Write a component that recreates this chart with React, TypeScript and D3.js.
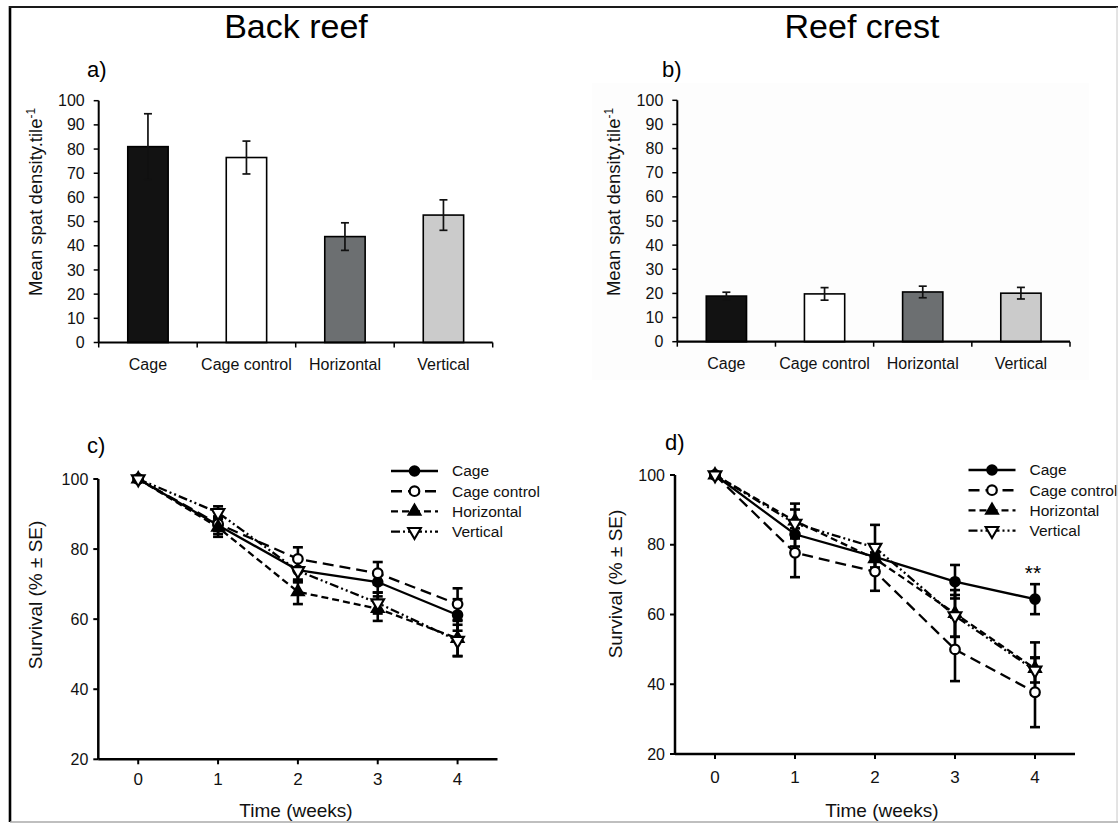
import React from "react";
import * as d3 from "d3";

// ---------- DATA ----------
const categories = ["Cage", "Cage control", "Horizontal", "Vertical"];
const backReefMeans = [81, 76.5, 43.8, 52.7];
const backReefSE = [13.6, 6.8, 5.7, 6.3];
const reefCrestMeans = [18.9, 19.8, 20.6, 20.1];
const reefCrestSE = [1.6, 2.6, 2.4, 2.4];
const barFills = ["#121212", "#ffffff", "#6c6f71", "#cbcbcb"];
const densityTicks = [0, 10, 20, 30, 40, 50, 60, 70, 80, 90, 100];

const weeks = [0, 1, 2, 3, 4];
const survivalTicks = [20, 40, 60, 80, 100];
const seriesNames = ["Cage", "Cage control", "Horizontal", "Vertical"];

// Back reef survival (c)
const backCage = [100, 86.8, 74.0, 70.6, 61.2];
const backCageSE = [0, 2.5, 3.5, 3.0, 4.5];
const backControl = [100, 87.2, 77.2, 73.1, 64.3];
const backControlSE = [0, 2.0, 3.3, 3.2, 4.5];
const backHorizontal = [100, 86.2, 67.8, 63.0, 54.5];
const backHorizontalSE = [0, 2.7, 3.5, 3.5, 5.0];
const backVertical = [100, 90.4, 73.8, 64.6, 53.9];
const backVerticalSE = [0, 1.8, 3.0, 3.0, 4.5];

// Reef crest survival (d)
const crestCage = [100, 83.0, 76.5, 69.4, 64.4];
const crestCageSE = [0, 3.5, 3.0, 4.8, 4.3];
const crestControl = [100, 77.7, 72.3, 50.0, 37.7];
const crestControlSE = [0, 7.0, 5.5, 9.1, 10.0];
const crestHorizontal = [100, 86.8, 76.0, 60.3, 44.5];
const crestHorizontalSE = [0, 5.0, 4.0, 6.7, 7.5];
const crestVertical = [100, 86.1, 79.2, 59.6, 44.0];
const crestVerticalSE = [0, 4.0, 6.5, 6.0, 3.5];

const dashes = ["none", "11,6", "7,4", "9,3,2,3,2,3"];
const markerKinds = ["circleFilled", "circleOpen", "triUp", "triDown"];

const FONT = "'Liberation Sans', Arial, Helvetica, sans-serif";

// ---------- BAR PANEL ----------
type BarProps = {
  x0: number; x1: number; yTop: number; yBottom: number;
  means: number[]; ses: number[]; labelX: number; labelY: number;
};

function BarPanel({ x0, x1, yTop, yBottom, means, ses, labelX, labelY }: BarProps) {
  const x = d3.scaleBand<string>().domain(categories).range([x0, x1]).padding(0);
  const y = d3.scaleLinear().domain([0, 100]).range([yBottom, yTop]);
  const bw = x.bandwidth() * 0.41;
  const boundaries = categories.map((c) => x(c) as number).concat([x1]);
  return (
    <g>
      {categories.map((c, i) => {
        const cx = (x(c) as number) + x.bandwidth() / 2;
        const top = y(means[i]);
        return (
          <g key={c}>
            <rect x={cx - bw / 2} y={top} width={bw} height={yBottom - top}
              fill={barFills[i]} stroke="#000" strokeWidth={1.6} />
            <line x1={cx} x2={cx} y1={y(means[i] + ses[i])} y2={y(means[i] - ses[i])}
              stroke="#111" strokeWidth={1.7} />
            <line x1={cx - 4} x2={cx + 4} y1={y(means[i] + ses[i])} y2={y(means[i] + ses[i])}
              stroke="#111" strokeWidth={1.7} />
            <line x1={cx - 4} x2={cx + 4} y1={y(means[i] - ses[i])} y2={y(means[i] - ses[i])}
              stroke="#111" strokeWidth={1.7} />
            <text x={cx} y={yBottom + 27} textAnchor="middle" fontSize={16} fontFamily={FONT} fill="#111">{c}</text>
          </g>
        );
      })}
      {/* axes */}
      <line x1={x0} x2={x0} y1={yTop} y2={yBottom} stroke="#000" strokeWidth={2} />
      <line x1={x0} x2={x1} y1={yBottom} y2={yBottom} stroke="#000" strokeWidth={2.2} />
      {densityTicks.map((t) => (
        <g key={t}>
          <line x1={x0 - 5} x2={x0} y1={y(t)} y2={y(t)} stroke="#000" strokeWidth={1.5} />
          <text x={x0 - 14} y={y(t)} dy="0.35em" textAnchor="end" fontSize={16} fontFamily={FONT} fill="#111">{t}</text>
        </g>
      ))}
      {boundaries.map((bx, i) => (
        <line key={i} x1={bx} x2={bx} y1={yBottom} y2={yBottom + 5} stroke="#000" strokeWidth={1.5} />
      ))}
      <text transform={`translate(${labelX},${labelY}) rotate(-90)`} textAnchor="middle"
        fontSize={18.5} fontFamily={FONT} fill="#111">
        Mean spat density.tile<tspan dy="-7" fontSize={12}>-1</tspan>
      </text>
    </g>
  );
}

// ---------- SURVIVAL PANEL ----------
type LineProps = {
  x0: number; x1: number; yTop: number; yBottom: number;
  series: number[][]; errors: number[][];
  labelX: number; labelY: number; timeX: number;
  legendX: number; legendY: number; tickBaseline: number;
};

function Marker({ kind, cx, cy }: { kind: string; cx: number; cy: number }) {
  if (kind === "circleFilled") return <circle cx={cx} cy={cy} r={4.9} fill="#000" stroke="#000" strokeWidth={1.8} />;
  if (kind === "circleOpen") return <circle cx={cx} cy={cy} r={4.8} fill="#fff" stroke="#000" strokeWidth={2.2} />;
  const sym = d3.symbol().type(d3.symbolTriangle).size(70)();
  if (kind === "triUp")
    return <path d={sym as string} transform={`translate(${cx},${cy})`} fill="#000" stroke="#000" strokeWidth={1.6} />;
  return <path d={sym as string} transform={`translate(${cx},${cy}) rotate(180)`} fill="#fff" stroke="#000" strokeWidth={2.1} />;
}

function SurvivalPanel(p: LineProps) {
  const x = d3.scaleLinear().domain([-0.5, 4.5]).range([p.x0, p.x1]);
  const y = d3.scaleLinear().domain([20, 100]).range([p.yBottom, p.yTop]);
  const line = d3.line<number>().x((_, i) => x(weeks[i])).y((d) => y(d));
  return (
    <g>
      {p.series.map((s, k) => (
        <path key={"l" + k} d={line(s) as string} fill="none" stroke="#000" strokeWidth={2.3}
          strokeDasharray={dashes[k]} />
      ))}
      {p.series.map((s, k) =>
        s.map((v, i) => {
          const e = p.errors[k][i];
          if (!e) return null;
          const cx = x(weeks[i]);
          return (
            <g key={`e${k}-${i}`}>
              <line x1={cx} x2={cx} y1={y(v + e)} y2={y(v - e)} stroke="#000" strokeWidth={2.6} />
              <line x1={cx - 5} x2={cx + 5} y1={y(v + e)} y2={y(v + e)} stroke="#000" strokeWidth={2.6} />
              <line x1={cx - 5} x2={cx + 5} y1={y(v - e)} y2={y(v - e)} stroke="#000" strokeWidth={2.6} />
            </g>
          );
        })
      )}
      {p.series.map((s, k) =>
        s.map((v, i) => <Marker key={`m${k}-${i}`} kind={markerKinds[k]} cx={x(weeks[i])} cy={y(v)} />)
      )}
      {/* axes */}
      <line x1={p.x0} x2={p.x0} y1={p.yTop} y2={p.yBottom} stroke="#000" strokeWidth={2.5} />
      <line x1={p.x0} x2={p.x1} y1={p.yBottom} y2={p.yBottom} stroke="#000" strokeWidth={2.5} />
      {survivalTicks.map((t) => (
        <g key={t}>
          <line x1={p.x0 - 5} x2={p.x0} y1={y(t)} y2={y(t)} stroke="#000" strokeWidth={2} />
          <text x={p.x0 - 10} y={y(t)} dy="0.35em" textAnchor="end" fontSize={16} fontFamily={FONT} fill="#111">{t}</text>
        </g>
      ))}
      {weeks.map((w) => (
        <g key={w}>
          <line x1={x(w)} x2={x(w)} y1={p.yBottom} y2={p.yBottom + 5} stroke="#000" strokeWidth={2} />
          <text x={x(w)} y={p.tickBaseline} textAnchor="middle" fontSize={17} fontFamily={FONT} fill="#111">{w}</text>
        </g>
      ))}
      <text transform={`translate(${p.labelX},${p.labelY}) rotate(-90)`} textAnchor="middle"
        fontSize={19} fontFamily={FONT} fill="#111">Survival (% ± SE)</text>
      <text x={p.timeX} y={817} textAnchor="middle" fontSize={19} fontFamily={FONT} fill="#111">Time (weeks)</text>
      {/* legend */}
      {seriesNames.map((n, k) => {
        const ly = p.legendY + k * 20.2;
        return (
          <g key={n}>
            <line x1={p.legendX} x2={p.legendX + 47} y1={ly} y2={ly} stroke="#000" strokeWidth={2.4}
              strokeDasharray={dashes[k]} />
            <Marker kind={markerKinds[k]} cx={p.legendX + 23.5} cy={ly} />
            <text x={p.legendX + 61} y={ly} dy="0.35em" fontSize={15.5} fontFamily={FONT} fill="#111">{n}</text>
          </g>
        );
      })}
    </g>
  );
}

export default function App() {
  return (
    <svg width={1118} height={823} style={{ position: "absolute", left: 0, top: 0, background: "#fff" }}>
      <rect x={0} y={0} width={1118} height={823} fill="#fff" />
      <rect x={592} y={83} width={497} height={297} fill="#fdfdfd" />

      {/* Titles */}
      <text x={296} y={38} textAnchor="middle" fontSize={34} fontFamily={FONT} fill="#000">Back reef</text>
      <text x={862} y={38} textAnchor="middle" fontSize={34} fontFamily={FONT} fill="#000">Reef crest</text>

      <text x={87} y={77} fontSize={22} fontFamily={FONT} fill="#000">a)</text>
      <text x={662} y={77} fontSize={22} fontFamily={FONT} fill="#000">b)</text>
      <text x={87} y={453} fontSize={22} fontFamily={FONT} fill="#000">c)</text>
      <text x={665} y={450} fontSize={22} fontFamily={FONT} fill="#000">d)</text>

      <BarPanel x0={98.7} x1={492.7} yTop={100.7} yBottom={342.5}
        means={backReefMeans} ses={backReefSE} labelX={41.5} labelY={202} />
      <BarPanel x0={677.3} x1={1070} yTop={100.3} yBottom={341.7}
        means={reefCrestMeans} ses={reefCrestSE} labelX={620} labelY={202} />

      <SurvivalPanel x0={98.3} x1={497.5} yTop={479} yBottom={759.3}
        series={[backCage, backControl, backHorizontal, backVertical]}
        errors={[backCageSE, backControlSE, backHorizontalSE, backVerticalSE]}
        labelX={42} labelY={595} timeX={296} legendX={391} legendY={471} tickBaseline={785} />
      <SurvivalPanel x0={675} x1={1075} yTop={475} yBottom={754}
        series={[crestCage, crestControl, crestHorizontal, crestVertical]}
        errors={[crestCageSE, crestControlSE, crestHorizontalSE, crestVerticalSE]}
        labelX={622} labelY={584} timeX={882} legendX={968.5} legendY={470} tickBaseline={783} />

      <text x={1033} y={580} textAnchor="middle" fontSize={21} fontFamily={FONT} fill="#000">**</text>

      {/* Frame */}
      <line x1={10} x2={10} y1={6} y2={822} stroke="#000" strokeWidth={2.6} />
      <line x1={9} x2={1118} y1={7} y2={7} stroke="#1a1a1a" strokeWidth={2} />
      <line x1={1117} x2={1117} y1={7} y2={822} stroke="#c8c8c8" strokeWidth={1} />
      <line x1={10} x2={1118} y1={822} y2={822} stroke="#aaa" strokeWidth={1.5} />
    </svg>
  );
}
